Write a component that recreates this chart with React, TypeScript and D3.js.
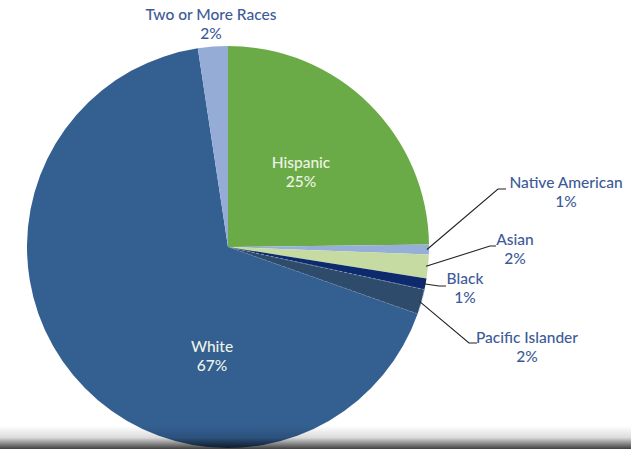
import React from "react";
import * as d3 from "d3";

const categories = ["Hispanic", "Native American", "Asian", "Black", "Pacific Islander", "White", "Two or More Races"];
const shares = [24.8, 0.8, 1.9, 0.9, 2.0, 67.2, 2.4];
const percentLabels = ["25%", "1%", "2%", "1%", "2%", "67%", "2%"];
const colors = ["#6aab47", "#95afd8", "#c6dba2", "#0c2a6c", "#2e4b6c", "#335f91", "#94acd6"];

const W = 631;
const H = 449;
const cx = 228;
const cy = 247;
const R = 201;

type Lbl = { inside: boolean; x: number; y: number; elbow?: [number, number]; end?: [number, number] };
const layout: Record<string, Lbl> = {
  "Hispanic": { inside: true, x: 301, y: 168 },
  "White": { inside: true, x: 212, y: 352 },
  "Two or More Races": { inside: false, x: 211, y: 20 },
  "Native American": { inside: false, x: 566, y: 188, elbow: [498, 189], end: [506, 189] },
  "Asian": { inside: false, x: 515, y: 245, elbow: [490, 246], end: [496, 246] },
  "Black": { inside: false, x: 465, y: 284, elbow: [439, 286], end: [446, 286] },
  "Pacific Islander": { inside: false, x: 527, y: 343, elbow: [469, 343], end: [477, 343] },
};

export default function App() {
  const pie = d3.pie<number>().sort(null).value((d) => d);
  const arcs = pie(shares);
  const arc = d3.arc<d3.PieArcDatum<number>>().innerRadius(0).outerRadius(R);
  const edgeArc = d3.arc<d3.PieArcDatum<number>>().innerRadius(R - 2).outerRadius(R - 2);
  const font = "Lato, 'Open Sans', sans-serif";
  return (
    <svg width={W} height={H} style={{ position: "absolute", left: 0, top: 0, background: "#fff" }}>
      <defs>
        <linearGradient id="shade" x1="0" y1="0" x2="0" y2="1">
          <stop offset="0" stopColor="#000" stopOpacity="0" />
          <stop offset="0.5" stopColor="#000" stopOpacity="0.14" />
          <stop offset="1" stopColor="#000" stopOpacity="0.75" />
        </linearGradient>
      </defs>
      <g transform={`translate(${cx},${cy})`}>
        {arcs.map((a, i) => (
          <path key={i} d={arc(a) || ""} fill={colors[i]}
            stroke={categories[i] === "Pacific Islander" ? "#8fa4c0" : "none"}
            strokeWidth={categories[i] === "Pacific Islander" ? 0.7 : 0}
            strokeDasharray="3,2" />
        ))}
      </g>
      {arcs.map((a, i) => {
        const L = layout[categories[i]];
        if (!L.elbow) return null;
        const c = edgeArc.centroid(a);
        return (
          <polyline key={"l" + i}
            points={`${cx + c[0]},${cy + c[1]} ${L.elbow[0]},${L.elbow[1]} ${L.end![0]},${L.end![1]}`}
            fill="none" stroke="#222" strokeWidth={1.1} />
        );
      })}
      {categories.map((c, i) => {
        const L = layout[c];
        const fill = L.inside ? "#eef3e6" : "#3d5b98";
        return (
          <text key={"t" + i} x={L.x} y={L.y} textAnchor="middle" fontFamily={font} fontSize={15.5} fontWeight={500} fill={fill}>
            <tspan x={L.x} dy={0}>{c}</tspan>
            <tspan x={L.x} dy={19}>{percentLabels[i]}</tspan>
          </text>
        );
      })}
      <rect x={0} y={426} width={W} height={H - 426} fill="url(#shade)" />
    </svg>
  );
}
